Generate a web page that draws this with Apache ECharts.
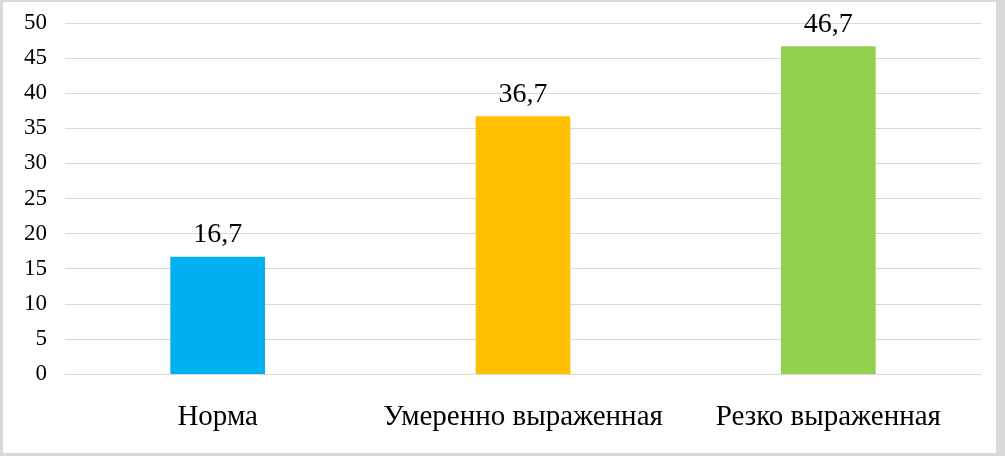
<!DOCTYPE html>
<html>
<head>
<meta charset="utf-8">
<script src="https://cdn.jsdelivr.net/npm/echarts@6/dist/echarts.min.js"></script>
<style>
html,body{margin:0;padding:0;background:#fff;}
#frame{position:absolute;left:0;top:0;width:1005px;height:456px;box-sizing:border-box;
  border-style:solid;border-color:#d9d9d9;border-width:2px 9px 3px 3px;background:#fff;}
#chart{width:993px;height:451px;}
</style>
</head>
<body>
<div id="frame"><div id="chart"></div></div>
<script>
var categories = ['Норма', 'Умеренно выраженная', 'Резко выраженная'];
var values = [16.7, 36.7, 46.7];
var barColors = ['#00B0F0', '#FFC000', '#92D050'];
var yTicks = {min: 0, max: 50, interval: 5};

var chart = echarts.init(document.getElementById('chart'));
var font = '"Liberation Serif", "Times New Roman", serif';
chart.setOption({
  animation: false,
  backgroundColor: '#ffffff',
  grid: {left: 62, right: 15, top: 21, bottom: 79, containLabel: false},
  xAxis: {
    type: 'category',
    data: categories,
    axisLine: {show: true, lineStyle: {color: '#d9d9d9', width: 1}},
    axisTick: {show: false},
    axisLabel: {color: '#000', fontFamily: font, fontSize: 29, margin: 29, interval: 0}
  },
  yAxis: {
    type: 'value',
    min: yTicks.min, max: yTicks.max, interval: yTicks.interval,
    axisLine: {show: false},
    axisTick: {show: false},
    splitLine: {lineStyle: {color: '#d9d9d9', width: 1}},
    axisLabel: {color: '#000', fontFamily: font, fontSize: 23, margin: 18}
  },
  series: [{
    type: 'bar',
    barWidth: '31%',
    data: values.map(function (v, i) { return {value: v, itemStyle: {color: barColors[i]}}; }),
    label: {
      show: true, position: 'top', distance: 8,
      color: '#000', fontFamily: font, fontSize: 28,
      formatter: function (p) { return String(p.value).replace('.', ','); }
    }
  }]
});
</script>
</body>
</html>
